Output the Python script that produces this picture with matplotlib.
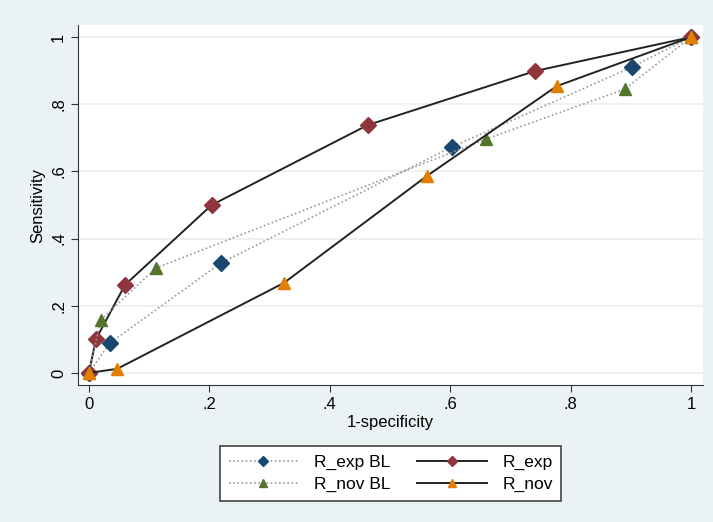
import matplotlib.pyplot as plt
import numpy as np

plt.rcParams['font.family'] = ['Liberation Sans', 'DejaVu Sans']

# 1-specificity / sensitivity pairs
exp_bl_x = [0, 0.035, 0.219, 0.603, 0.902, 1]
exp_bl_y = [0, 0.089, 0.327, 0.673, 0.911, 1]
nov_bl_x = [0, 0.020, 0.111, 0.659, 0.890, 1]
nov_bl_y = [0, 0.158, 0.312, 0.696, 0.845, 1]
exp_x = [0, 0.012, 0.060, 0.204, 0.463, 0.741, 1]
exp_y = [0, 0.101, 0.262, 0.500, 0.738, 0.899, 1]
nov_x = [0, 0.047, 0.324, 0.561, 0.777, 1]
nov_y = [0, 0.012, 0.268, 0.586, 0.854, 1]

ticks = [0, 0.2, 0.4, 0.6, 0.8, 1]
tick_labels = ["0", ".2", ".4", ".6", ".8", "1"]

bg = "#EAF2F3"
fig = plt.figure(figsize=(7.13, 5.22), dpi=100, facecolor=bg)
ax = fig.add_axes([0.1094, 0.2625, 0.8766, 0.6895])
ax.set_facecolor("white")

dot = dict(color="#999999", lw=1.2, ls=(0, (1, 1.5)))
solid = dict(color="#222222", lw=1.4)
l1, = ax.plot(exp_bl_x, exp_bl_y, marker="D", ms=8, mfc="#1A476F", mec="#1A476F", **dot)
l2, = ax.plot(exp_x, exp_y, marker="D", ms=8, mfc="#90353B", mec="#90353B", **solid)
l3, = ax.plot(nov_bl_x, nov_bl_y, marker="^", ms=9, mfc="#55752F", mec="#55752F", **dot)
l4, = ax.plot(nov_x, nov_y, marker="^", ms=9, mfc="#E37E00", mec="#E37E00", **solid)

ax.set_xlim(-0.018, 1.02)
ax.set_ylim(-0.036, 1.036)
ax.set_xticks(ticks)
ax.set_xticklabels(tick_labels, fontsize=12)
ax.set_yticks(ticks)
ax.set_yticklabels(tick_labels, fontsize=12, rotation=90, va="center")
ax.yaxis.grid(True, color=bg, lw=1.5)
ax.set_axisbelow(True)
for s in ["top", "right"]:
    ax.spines[s].set_visible(False)
for s in ["left", "bottom"]:
    ax.spines[s].set_color("#333333")
ax.tick_params(color="#333333", length=5)
ax.set_xlabel("1-specificity", fontsize=12, labelpad=2)
ax.set_ylabel("Sensitivity", fontsize=12, labelpad=4)

leg = fig.legend([l1, l3, l2, l4], ["R_exp BL", "R_nov BL", "R_exp", "R_nov"],
                 ncol=2, loc="center", bbox_to_anchor=(0.548, 0.093),
                 fontsize=12.5, frameon=True, fancybox=False, framealpha=1,
                 handlelength=4.0, markerscale=0.7, columnspacing=1.55,
                 handletextpad=0.9, borderpad=0.5, labelspacing=0.42)
leg.get_frame().set_edgecolor("#444444")
leg.get_frame().set_linewidth(1.2)

fig.savefig("out.png", dpi=100, facecolor=bg)
